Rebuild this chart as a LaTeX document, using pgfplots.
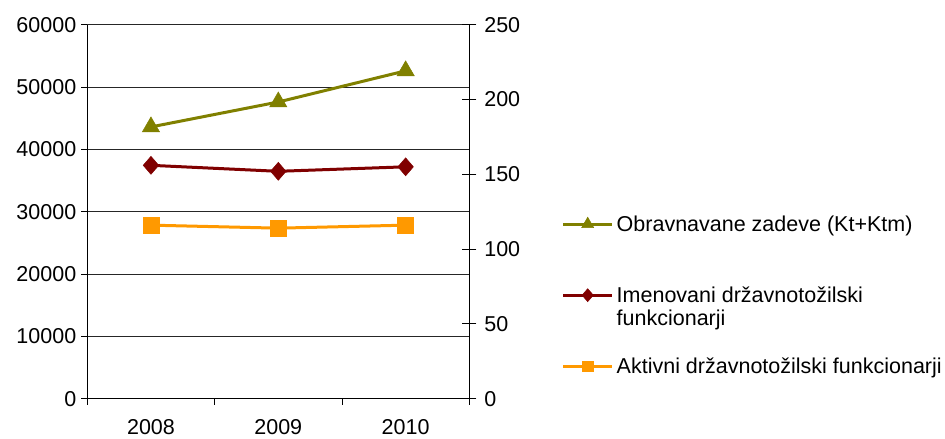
\documentclass[border=0pt]{standalone}
\usepackage{fontspec}
\setmainfont{Liberation Sans}
\usepackage{pgfplots}
\pgfplotsset{compat=1.18}
\definecolor{cOlive}{RGB}{128,128,0}
\definecolor{cRed}{RGB}{128,0,0}
\definecolor{cOrange}{RGB}{255,153,0}
\begin{document}
\begin{tikzpicture}[font=\fontsize{21.5}{23}\selectfont]
\useasboundingbox (-87.3pt,-40.3pt) rectangle (857.7pt,398.7pt);
\pgfplotsset{
 common/.style={scale only axis, width=382pt, height=374pt, at={(0pt,0pt)}, anchor=south west,
   xmin=-0.5, xmax=2.5,
   /pgf/number format/assume math mode=true, /pgf/number format/1000 sep={},
   axis line style={-, line width=1pt, black},
   tick style={black, line width=0.8pt},
   ticklabel style={font=\fontsize{21.5}{23}\selectfont}},
}
\begin{axis}[common, axis x line*=bottom, axis y line*=left,
  ymin=0, ymax=60000, ytick={0,10000,...,60000}, scaled y ticks=false,
  xtick={0,1,2}, xticklabels={2008,2009,2010},
  minor xtick={-0.5,0.5,1.5,2.5},
  tick align=outside, major tick length=6pt, minor tick length=6pt,
  major x tick style={draw=none},
  ymajorgrids, major grid style={black!85, line width=0.8pt},
  yticklabel style={xshift=-1.5pt},
  xticklabel style={yshift=-11.5pt}]
\addplot[cOlive, line width=3pt, mark=triangle*, mark size=10pt, mark options={line width=0.5pt}]
  coordinates {(0,43600) (1,47600) (2,52600)};
\end{axis}
\begin{axis}[common, hide x axis, axis y line*=right,
  ymin=0, ymax=250, ytick={0,50,...,250},
  tick align=center, major tick length=14pt,
  yticklabel style={xshift=4.5pt},
  legend image code/.code={\draw[mark repeat=2, mark phase=2, #1, yshift=7pt] plot coordinates {(0pt,0pt) (24.5pt,0pt) (49pt,0pt)};},
  legend style={draw=none, fill=none, at={(1.2419,0.488)}, anchor=north west,
    inner sep=0pt, outer sep=0pt, row sep=56pt, column sep=3pt,
    cells={anchor=base west},
    nodes={inner sep=0pt, text height=15pt, text depth=0pt,
      font=\fontsize{21.5}{23}\selectfont}}]
\addlegendimage{cOlive, line width=3pt, mark=triangle*, mark size=7pt, mark options={line width=0.5pt}}
\addlegendentry{Obravnavane zadeve (Kt+Ktm)}
\addlegendimage{cRed, line width=3pt, mark=diamond*, mark size=6.5pt, mark options={line width=0.5pt, xscale=1.15}}
\addlegendentry{{\begin{tabular}[t]{@{}l@{}}Imenovani državnotožilski\\funkcionarji\end{tabular}}}
\addlegendimage{cOrange, line width=3pt, mark=square*, mark size=5.3pt, mark options={line width=0.5pt}}
\addlegendentry{Aktivni državnotožilski funkcionarji}
\addplot[forget plot, cRed, line width=3pt, mark=diamond*, mark size=9pt, mark options={line width=0.5pt, xscale=1.15}]
  coordinates {(0,156) (1,152) (2,155)};
\addplot[forget plot, cOrange, line width=3pt, mark=square*, mark size=8pt, mark options={line width=0.5pt}]
  coordinates {(0,116) (1,114) (2,116)};
\end{axis}
\end{tikzpicture}
\end{document}
